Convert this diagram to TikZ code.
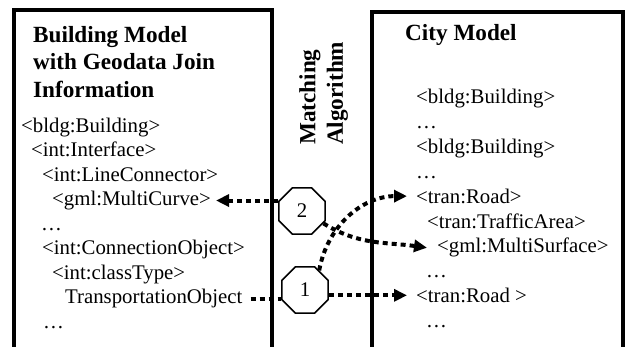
\documentclass[tikz,border=0pt]{standalone}
\usepackage{fontspec}
\setmainfont{Liberation Serif}
\usetikzlibrary{arrows.meta,shapes.geometric}

\begin{document}
\begin{tikzpicture}[x=1pt,y=1pt,
		frame/.style={line width=3.2pt},
		item/.style={anchor=base west,inner sep=0pt,font=\fontsize{20.8}{24.5}\selectfont},
		head/.style={inner sep=0pt,align=left,font=\fontsize{23.2}{27.5}\selectfont\bfseries},
		octo/.style={regular polygon,regular polygon sides=8,minimum size=50pt,inner sep=0pt,draw,line width=1.6pt,fill=white,font=\fontsize{20.8}{24.5}\selectfont},
		link/.style={line width=4pt,dash pattern=on 5pt off 4pt},
		linkarrow/.style={link,-{Triangle[length=13pt,width=12pt]}}]
			\useasboundingbox (0,0) rectangle (626,346);
			% both models, boxes left open at the bottom
			\draw[frame] (14,-5) -- (14,336) -- (272,336) -- (272,-5);
			\draw[frame] (372,-5) -- (372,334) -- (623,334) -- (623,-5);

			% building model side
			\node[head,anchor=north west] (bmtitle) at (33,320) {Building Model\\with Geodata Join\\Information};
			\node[item] (bbldg) at (21,214) {<bldg:Building>};
			\node[item] (binterface) at (31,189.5) {<int:Interface>};
			\node[item] (blineconn) at (42,165) {<int:LineConnector>};
			\node[item] (bcurve) at (52,140.5) {<gml:MultiCurve>};
			\node[item] (bdotsA) at (41,116) {…};
			\node[item] (bconnobj) at (42,91.5) {<int:ConnectionObject>};
			\node[item] (bclass) at (52,67) {<int:classType>};
			\node[item] (btransp) at (65,42.5) {TransportationObject};
			\node[item] (bdotsB) at (43,18) {…};

			% city model side
			\node[head,anchor=base west] (cmtitle) at (405,305) {City Model};
			\node[item] (cbldgA) at (416,242) {<bldg:Building>};
			\node[item] (cdotsA) at (416,217.2) {…};
			\node[item] (cbldgB) at (416,192.4) {<bldg:Building>};
			\node[item] (cdotsB) at (416,167.6) {…};
			\node[item] (croadA) at (416,142.8) {<tran:Road>};
			\node[item] (ctraffic) at (427,118) {<tran:TrafficArea>};
			\node[item] (csurface) at (437,93.2) {<gml:MultiSurface>};
			\node[item] (cdotsC) at (426,68.4) {…};
			\node[item] (croadB) at (416,43.6) {<tran:Road >};
			\node[item] (cdotsD) at (426,18.8) {…};

			% matching in between
			\node[head,rotate=90,anchor=north west] (algo) at (299,201) {Matching\\Algorithm};
			\node[octo] (two) at (302,135) {2};
			\node[octo] (one) at (305,56) {1};

			\draw[link] ([xshift=8pt]btransp.east) -- (one.west |- btransp.east);
			\draw[linkarrow] (two.west |- bcurve.east) -- ([xshift=5pt]bcurve.east);
			\draw[linkarrow] (two.-30) to[out=-32,in=172] ([xshift=-10pt]csurface.west);
			\draw[linkarrow] (one.54) to[out=80,in=180] ([xshift=-9pt]croadA.west);
			\draw[linkarrow] (one.east |- croadB.west) -- ([xshift=-9pt]croadB.west);
		\end{tikzpicture}
\end{document}
